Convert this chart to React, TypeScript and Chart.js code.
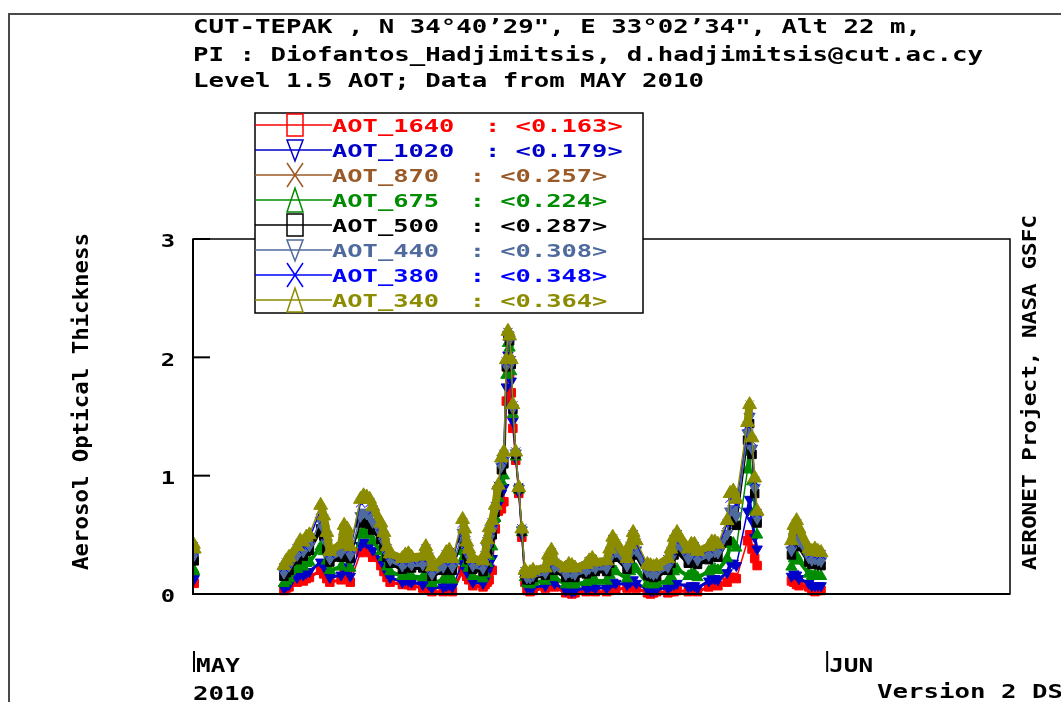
import { useEffect, useRef } from 'react';
import { Chart, registerables } from 'chart.js';

Chart.register(...registerables);

// ---------- DATA ----------
// Observation times, in days of May 2010 (1 = May 1 00:00 UTC). null rows break the line.
const obsDays = [
  1.02, 1.06,
  3.0,
  5.45, 5.57, 5.7,
  6.1, 6.25, 6.4, 6.55, 6.7,
  7.25, 7.4, 7.55, 7.7,
  8.25, 8.4, 8.55, 8.7,
  9.2, 9.35, 9.5, 9.65, 9.8,
  10.2, 10.35, 10.5, 10.65,
  11.25, 11.4, 11.55, 11.7,
  12.25, 12.4, 12.55, 12.7,
  13.25, 13.4, 13.55, 13.7,
  14.2, 14.3, 14.4, 14.5, 14.7,
  15.2, 15.3, 15.4, 15.5, 15.65, 15.8, 15.95,
  16.1, 16.22, 16.34, 16.42, 16.5, 16.58, 16.66, 16.8, 16.95,
  17.1, 17.25, 17.35, 17.5, 17.65,
  18.25, 18.4, 18.55, 18.7,
  19.25, 19.4, 19.55, 19.7,
  20.25, 20.4, 20.55, 20.7,
  21.25, 21.4, 21.55, 21.7,
  22.25, 22.4, 22.55, 22.7,
  23.25, 23.4, 23.55, 23.7,
  24.25, 24.4, 24.55, 24.7,
  25.25, 25.4, 25.55, 25.7,
  26.25, 26.4, 26.55, 26.7,
  27.15, 27.3, 27.45, 27.6,
  28.15, 28.25, 28.37, 28.5, 28.62,
  29.2,
  30.3, 30.42, 30.55, 30.67,
  31.15, 31.3, 31.45, 31.6, 31.75,
];

const aot340 = [
  0.42, 0.38,
  null,
  0.24, 0.28, 0.31,
  0.40, 0.45, 0.44, 0.48, 0.50,
  0.75, 0.66, 0.52, 0.36,
  0.42, 0.58, 0.55, 0.40,
  0.80, 0.83, 0.82, 0.80, 0.74,
  0.60, 0.52, 0.40, 0.34,
  0.30, 0.33, 0.34, 0.31,
  0.32, 0.40, 0.33, 0.23,
  0.30, 0.35, 0.37, 0.30,
  0.63, 0.55, 0.44, 0.38, 0.30,
  0.28, 0.34, 0.46, 0.56, 0.62, 0.75, 0.92,
  1.15, 1.20, 1.98, 2.22, 2.18, 1.98, 1.60, 1.20, 0.90,
  0.55, 0.20, 0.17, 0.18, 0.20,
  0.22, 0.33, 0.37, 0.28,
  0.22, 0.25, 0.24, 0.22,
  0.25, 0.28, 0.30, 0.27,
  0.28, 0.38, 0.48, 0.44,
  0.30, 0.42, 0.52, 0.45,
  0.25, 0.24, 0.23, 0.24,
  0.30, 0.38, 0.48, 0.52,
  0.38, 0.42, 0.42, 0.36,
  0.40, 0.44, 0.44, 0.42,
  0.62, 0.85, 0.87, 0.80,
  1.45, 1.60, 1.32, 0.98, 0.70,
  null,
  0.45, 0.58, 0.62, 0.55,
  0.38, 0.36, 0.38, 0.36, 0.35,
];

const aot380 = [
  0.40, 0.36,
  null,
  0.22, 0.26, 0.29,
  0.38, 0.42, 0.41, 0.45, 0.47,
  0.71, 0.63, 0.49, 0.34,
  0.40, 0.55, 0.52, 0.38,
  0.77, 0.80, 0.79, 0.77, 0.71,
  0.57, 0.49, 0.38, 0.32,
  0.28, 0.31, 0.32, 0.29,
  0.30, 0.38, 0.31, 0.21,
  0.28, 0.33, 0.35, 0.28,
  0.60, 0.52, 0.42, 0.36, 0.28,
  0.26, 0.32, 0.44, 0.54, 0.60, 0.74, 0.91,
  1.13, 1.18, 1.96, 2.21, 2.17, 1.97, 1.59, 1.20, 0.90,
  0.55, 0.19, 0.16, 0.17, 0.19,
  0.21, 0.31, 0.35, 0.26,
  0.21, 0.24, 0.23, 0.21,
  0.24, 0.27, 0.29, 0.26,
  0.27, 0.36, 0.46, 0.42,
  0.29, 0.40, 0.50, 0.43,
  0.24, 0.23, 0.22, 0.23,
  0.29, 0.36, 0.46, 0.50,
  0.36, 0.40, 0.40, 0.34,
  0.38, 0.42, 0.42, 0.40,
  0.59, 0.81, 0.83, 0.76,
  1.42, 1.56, 1.29, 0.95, 0.68,
  null,
  0.43, 0.55, 0.59, 0.52,
  0.36, 0.34, 0.36, 0.34, 0.33,
];

const aot440 = [
  0.35, 0.33,
  null,
  0.18, 0.22, 0.24,
  0.33, 0.37, 0.36, 0.40, 0.41,
  0.62, 0.55, 0.43, 0.30,
  0.35, 0.48, 0.46, 0.33,
  0.66, 0.69, 0.68, 0.66, 0.61,
  0.51, 0.44, 0.34, 0.29,
  0.24, 0.27, 0.28, 0.25,
  0.25, 0.32, 0.26, 0.17,
  0.23, 0.28, 0.29, 0.23,
  0.52, 0.46, 0.37, 0.32, 0.24,
  0.22, 0.28, 0.39, 0.47, 0.54, 0.71, 0.88,
  1.08, 1.13, 1.93, 2.19, 2.15, 1.95, 1.57, 1.19, 0.89,
  0.54, 0.17, 0.14, 0.14, 0.16,
  0.18, 0.27, 0.30, 0.23,
  0.17, 0.19, 0.18, 0.17,
  0.20, 0.22, 0.24, 0.22,
  0.22, 0.30, 0.39, 0.36,
  0.24, 0.34, 0.43, 0.37,
  0.19, 0.18, 0.17, 0.18,
  0.23, 0.30, 0.38, 0.42,
  0.30, 0.34, 0.34, 0.29,
  0.33, 0.36, 0.36, 0.35,
  0.51, 0.70, 0.72, 0.66,
  1.36, 1.50, 1.23, 0.90, 0.64,
  null,
  0.37, 0.48, 0.51, 0.45,
  0.31, 0.29, 0.30, 0.29, 0.28,
];

const aot500 = [
  0.30, 0.28,
  null,
  0.15, 0.18, 0.20,
  0.29, 0.33, 0.32, 0.36, 0.37,
  0.55, 0.49, 0.38, 0.27,
  0.31, 0.43, 0.41, 0.30,
  0.60, 0.62, 0.61, 0.59, 0.54,
  0.46, 0.40, 0.31, 0.26,
  0.21, 0.24, 0.25, 0.22,
  0.22, 0.28, 0.23, 0.15,
  0.20, 0.24, 0.25, 0.20,
  0.47, 0.42, 0.33, 0.29, 0.21,
  0.19, 0.25, 0.35, 0.43, 0.50, 0.69, 0.86,
  1.05, 1.10, 1.92, 2.18, 2.14, 1.94, 1.56, 1.18, 0.89,
  0.53, 0.16, 0.12, 0.12, 0.14,
  0.16, 0.24, 0.27, 0.20,
  0.14, 0.16, 0.15, 0.14,
  0.17, 0.19, 0.21, 0.19,
  0.19, 0.26, 0.34, 0.31,
  0.21, 0.30, 0.38, 0.33,
  0.16, 0.15, 0.14, 0.15,
  0.20, 0.26, 0.33, 0.36,
  0.26, 0.30, 0.30, 0.25,
  0.29, 0.32, 0.32, 0.31,
  0.45, 0.62, 0.64, 0.58,
  1.30, 1.44, 1.18, 0.85, 0.60,
  null,
  0.33, 0.43, 0.46, 0.40,
  0.27, 0.25, 0.26, 0.25, 0.24,
];

const aot675 = [
  0.21, 0.19,
  null,
  0.09, 0.11, 0.13,
  0.21, 0.24, 0.23, 0.26, 0.27,
  0.40, 0.36, 0.28, 0.20,
  0.23, 0.32, 0.30, 0.22,
  0.50, 0.53, 0.52, 0.50, 0.45,
  0.36, 0.31, 0.23, 0.19,
  0.15, 0.17, 0.17, 0.15,
  0.14, 0.18, 0.14, 0.09,
  0.12, 0.15, 0.16, 0.12,
  0.36, 0.32, 0.26, 0.22, 0.15,
  0.13, 0.17, 0.26, 0.32, 0.40, 0.64, 0.81,
  0.95, 1.00, 1.85, 2.12, 2.08, 1.88, 1.52, 1.16, 0.88,
  0.52, 0.14, 0.09, 0.08, 0.10,
  0.11, 0.17, 0.19, 0.14,
  0.08, 0.09, 0.08, 0.08,
  0.10, 0.12, 0.13, 0.11,
  0.11, 0.16, 0.21, 0.19,
  0.13, 0.19, 0.24, 0.21,
  0.09, 0.08, 0.08, 0.09,
  0.11, 0.15, 0.19, 0.21,
  0.15, 0.17, 0.17, 0.14,
  0.19, 0.21, 0.21, 0.20,
  0.30, 0.42, 0.43, 0.39,
  1.05, 1.20, 0.95, 0.70, 0.50,
  null,
  0.23, 0.30, 0.32, 0.28,
  0.17, 0.15, 0.16, 0.15, 0.15,
];

const aot1020 = [
  0.14, 0.13,
  null,
  0.05, 0.07, 0.08,
  0.14, 0.17, 0.16, 0.18, 0.19,
  0.27, 0.24, 0.19, 0.14,
  0.16, 0.23, 0.21, 0.15,
  0.41, 0.44, 0.43, 0.41, 0.37,
  0.29, 0.24, 0.18, 0.14,
  0.10, 0.12, 0.11, 0.10,
  0.08, 0.11, 0.08, 0.05,
  0.06, 0.07, 0.08, 0.06,
  0.26, 0.24, 0.19, 0.16, 0.10,
  0.09, 0.12, 0.18, 0.22, 0.30, 0.60, 0.76,
  0.85, 0.90, 1.75, 2.02, 1.98, 1.80, 1.46, 1.15, 0.86,
  0.50, 0.12, 0.06, 0.05, 0.06,
  0.07, 0.11, 0.12, 0.09,
  0.03, 0.04, 0.02, 0.03,
  0.05, 0.06, 0.07, 0.05,
  0.05, 0.08, 0.10, 0.09,
  0.08, 0.10, 0.12, 0.09,
  0.04, 0.03, 0.03, 0.04,
  0.05, 0.07, 0.08, 0.09,
  0.06, 0.07, 0.07, 0.05,
  0.11, 0.13, 0.13, 0.12,
  0.18, 0.26, 0.26, 0.24,
  0.70, 0.80, 0.62, 0.48, 0.38,
  null,
  0.15, 0.17, 0.16, 0.13,
  0.09, 0.07, 0.07, 0.07, 0.07,
];

const aot1640 = [
  0.10, 0.09,
  null,
  0.03, 0.05, 0.06,
  0.10, 0.12, 0.11, 0.13, 0.14,
  0.20, 0.17, 0.13, 0.10,
  0.12, 0.17, 0.15, 0.10,
  0.35, 0.38, 0.37, 0.35, 0.31,
  0.24, 0.19, 0.14, 0.10,
  0.08, 0.09, 0.08, 0.07,
  0.05, 0.06, 0.04, 0.02,
  0.02, 0.03, 0.03, 0.02,
  0.20, 0.19, 0.15, 0.12, 0.07,
  0.06, 0.08, 0.10, 0.12, 0.20, 0.55, 0.70,
  0.72, 0.78, 1.63, 1.88, 1.86, 1.70, 1.40, 1.13, 0.85,
  0.48, 0.10, 0.03, 0.02, 0.03,
  0.05, 0.08, 0.08, 0.06,
  0.01, 0.02, 0.00, 0.01,
  0.02, 0.03, 0.03, 0.02,
  0.02, 0.03, 0.04, 0.04,
  0.05, 0.06, 0.07, 0.05,
  0.01, 0.00, 0.01, 0.02,
  0.01, 0.02, 0.02, 0.03,
  0.02, 0.03, 0.03, 0.02,
  0.06, 0.08, 0.08, 0.07,
  0.10, 0.14, 0.14, 0.13,
  0.45, 0.50, 0.38, 0.30, 0.24,
  null,
  0.11, 0.10, 0.08, 0.07,
  0.06, 0.03, 0.02, 0.03, 0.03,
];

// AOT_870 has only a few observations
const days870 = [17.35, 17.5, 17.65, 22.0, 28.15, 28.25, 28.37, 28.5, 28.62];
const aot870 = [0.08, 0.12, 0.21, null, 1.30, 1.60, 1.20, 0.85, 0.60];

const legendNames = ['AOT_1640', 'AOT_1020', 'AOT_870', 'AOT_675', 'AOT_500', 'AOT_440', 'AOT_380', 'AOT_340'];
const legendMeans = ['0.163', '0.179', '0.257', '0.224', '0.287', '0.308', '0.348', '0.364'];

const yTickValues = [0, 1, 2, 3];
const monthDays = [1, 32];
const monthNames = ['MAY', 'JUN'];
const yearLabel = '2010';

const titleLines = [
  'CUT-TEPAK , N 34°40’29", E 33°02’34", Alt 22 m,',
  'PI : Diofantos_Hadjimitsis, d.hadjimitsis@cut.ac.cy',
  'Level 1.5 AOT; Data from MAY 2010',
];
const yAxisTitle = 'Aerosol Optical Thickness';
const rightTitle = 'AERONET Project, NASA GSFC';
const versionLabel = 'Version 2 DS';

// ---------- STYLES ----------
const COLORS: Record<string, string> = {
  AOT_1640: '#ff0000',
  AOT_1020: '#0000c8',
  AOT_870: '#9a5a28',
  AOT_675: '#008c00',
  AOT_500: '#000000',
  AOT_440: '#4f6a9c',
  AOT_380: '#0000ff',
  AOT_340: '#8c8c00',
};
const MARKERS: Record<string, { style: string; rot: number; r: number; lw: number }> = {
  AOT_1640: { style: 'rect', rot: 0, r: 6, lw: 3 },
  AOT_1020: { style: 'triangle', rot: 180, r: 6, lw: 3 },
  AOT_870: { style: 'crossRot', rot: 0, r: 6, lw: 2 },
  AOT_675: { style: 'triangle', rot: 0, r: 6.5, lw: 4 },
  AOT_500: { style: 'rect', rot: 0, r: 6, lw: 4 },
  AOT_440: { style: 'triangle', rot: 180, r: 6.5, lw: 5 },
  AOT_380: { style: 'crossRot', rot: 0, r: 6.5, lw: 4 },
  AOT_340: { style: 'triangle', rot: 0, r: 8, lw: 8 },
};

const FONT = '"DejaVu Sans Mono", monospace';

function drawText(
  ctx: CanvasRenderingContext2D,
  text: string,
  x: number,
  yc: number,
  size: number,
  color: string,
  opts: { width?: number; sx?: number; align?: CanvasTextAlign; rotate?: boolean } = {}
) {
  ctx.save();
  ctx.font = `bold ${size}px ${FONT}`;
  ctx.fillStyle = color;
  ctx.textBaseline = 'alphabetic';
  ctx.textAlign = opts.align ?? 'left';
  const w = ctx.measureText(text).width;
  const sx = opts.width ? opts.width / w : opts.sx ?? 1;
  const off = 0.3645 * size;
  if (opts.rotate) {
    ctx.translate(x + off, yc);
    ctx.rotate(-Math.PI / 2);
  } else {
    ctx.translate(x, yc + off);
  }
  ctx.scale(sx, 1);
  ctx.fillText(text, 0, 0);
  ctx.restore();
}

function drawLegendMarker(ctx: CanvasRenderingContext2D, name: string, x: number, y: number) {
  const m = MARKERS[name];
  ctx.save();
  ctx.strokeStyle = COLORS[name];
  ctx.lineWidth = 1.5;
  ctx.beginPath();
  if (m.style === 'rect') {
    ctx.rect(x - 8, y - 11, 16, 22);
  } else if (m.style === 'crossRot') {
    ctx.moveTo(x - 8, y - 12);
    ctx.lineTo(x + 8, y + 12);
    ctx.moveTo(x + 8, y - 12);
    ctx.lineTo(x - 8, y + 12);
  } else if (m.rot === 180) {
    ctx.moveTo(x - 8, y - 10);
    ctx.lineTo(x + 8, y - 10);
    ctx.lineTo(x, y + 11);
    ctx.closePath();
  } else {
    ctx.moveTo(x - 8, y + 12);
    ctx.lineTo(x + 8, y + 12);
    ctx.lineTo(x, y - 12);
    ctx.closePath();
  }
  ctx.stroke();
  ctx.restore();
}

const decorPlugin = {
  id: 'aeronetDecor',
  afterDraw(chart: any) {
    const ctx: CanvasRenderingContext2D = chart.ctx;
    const xs = chart.scales.x;
    const ys = chart.scales.y;
    const { left, top, right, bottom } = chart.chartArea;

    // outer frame lines
    ctx.save();
    ctx.strokeStyle = '#4a4a4a';
    ctx.lineWidth = 2;
    ctx.beginPath();
    ctx.moveTo(9, 702);
    ctx.lineTo(9, 14);
    ctx.lineTo(1061, 14);
    ctx.stroke();

    // plot box
    ctx.strokeStyle = '#000';
    ctx.lineWidth = 1.5;
    ctx.strokeRect(left, top, right - left, bottom - top);
    ctx.lineWidth = 2;
    ctx.beginPath();
    ctx.moveTo(left, top);
    ctx.lineTo(left, bottom);
    ctx.lineTo(right, bottom);
    ctx.stroke();

    // y ticks (inward)
    ctx.lineWidth = 2;
    for (const v of yTickValues) {
      const py = ys.getPixelForValue(v);
      ctx.beginPath();
      ctx.moveTo(left, py);
      ctx.lineTo(left + 17, py);
      ctx.stroke();
      drawText(ctx, String(v), left - 18, py + 2, 17, '#000', { sx: 1.4, align: 'right' });
    }

    // month ticks + labels
    monthDays.forEach((d, i) => {
      const px = xs.getPixelForValue(d);
      ctx.strokeStyle = '#000';
      ctx.lineWidth = 2;
      ctx.beginPath();
      ctx.moveTo(px + 1, 651);
      ctx.lineTo(px + 1, 672);
      ctx.stroke();
      drawText(ctx, monthNames[i], px + 3, 664.5, 20, '#000', { width: 44 });
      if (i === 0) drawText(ctx, yearLabel, px, 692.5, 20, '#000', { width: 62 });
    });
    drawText(ctx, versionLabel, 877, 690.5, 20, '#000', { width: 186 });

    // axis titles
    drawText(ctx, yAxisTitle, 80, 570, 21, '#000', { width: 337, rotate: true });
    drawText(ctx, rightTitle, 1029, 570, 20, '#000', { width: 355, rotate: true });

    // header
    const titleWidths = [728, 790, 511];
    const titleY = [26, 54, 80];
    titleLines.forEach((t, i) => drawText(ctx, t, 193, titleY[i], 20, '#000', { width: titleWidths[i] }));

    // legend box
    const lx0 = 255, ly0 = 113, lx1 = 643, ly1 = 313;
    ctx.fillStyle = '#fff';
    ctx.fillRect(lx0, ly0, lx1 - lx0, ly1 - ly0);
    ctx.strokeStyle = '#000';
    ctx.lineWidth = 1.5;
    ctx.strokeRect(lx0, ly0, lx1 - lx0, ly1 - ly0);
    legendNames.forEach((name, i) => {
      const y = 125 + 25 * i;
      ctx.strokeStyle = COLORS[name];
      ctx.lineWidth = 1.5;
      ctx.beginPath();
      ctx.moveTo(lx0, y);
      ctx.lineTo(332, y);
      ctx.stroke();
      drawLegendMarker(ctx, name, 295, y);
      const text = `${name}  : <${legendMeans[i]}>`;
      drawText(ctx, text, 332, y, 18, COLORS[name], { width: 15.3 * text.length });
    });
    ctx.restore();
  },
};

function series(name: string, days: number[], vals: (number | null)[]) {
  const m = MARKERS[name];
  return {
    label: name,
    data: days.map((d, i) => ({ x: d, y: vals[i] })),
    borderColor: COLORS[name],
    backgroundColor: COLORS[name],
    pointBorderColor: COLORS[name],
    pointBackgroundColor: COLORS[name],
    pointStyle: m.style,
    pointRotation: m.rot,
    pointRadius: m.r,
    pointBorderWidth: 1,
    borderWidth: m.lw,
    borderJoinStyle: 'round',
    borderCapStyle: 'round',
    // steep segments (the dust spikes) stay thin, as in the original plot
    segment: {
      borderWidth: (c: any) => (Math.abs(c.p1.y - c.p0.y) > 22 ? 1.5 : m.lw),
    },
    spanGaps: false,
    tension: 0,
    clip: { left: 0, top: 0, right: 0, bottom: 5 },
  };
}

export default function App() {
  const ref = useRef<HTMLCanvasElement>(null);
  useEffect(() => {
    const canvas = ref.current;
    if (!canvas) return;
    const datasets = [
      series('AOT_340', obsDays, aot340),
      series('AOT_380', obsDays, aot380),
      series('AOT_440', obsDays, aot440),
      series('AOT_500', obsDays, aot500),
      series('AOT_675', obsDays, aot675),
      series('AOT_870', days870, aot870),
      series('AOT_1020', obsDays, aot1020),
      series('AOT_1640', obsDays, aot1640),
    ];
    const chart = new Chart(canvas, {
      type: 'line',
      data: { datasets } as any,
      options: {
        responsive: false,
        animation: false,
        devicePixelRatio: 1,
        layout: { padding: { left: 0, top: 239, right: 51, bottom: 108 } },
        plugins: {
          legend: { display: false },
          tooltip: { enabled: false },
          title: { display: false },
        },
        scales: {
          x: { type: 'linear', min: 1, max: 41, display: false },
          y: {
            type: 'linear',
            min: 0,
            max: 3,
            afterFit: (s: any) => {
              s.width = 193;
            },
            grid: { display: false, drawTicks: false },
            border: { display: false },
            ticks: { display: false, stepSize: 1 },
          },
        },
      } as any,
      plugins: [decorPlugin],
    });
    return () => chart.destroy();
  }, []);
  return (
    <div style={{ position: 'fixed', left: 0, top: 0, width: 1061, height: 702, background: '#fff' }}>
      <canvas ref={ref} width={1061} height={702} style={{ display: 'block', width: 1061, height: 702 }} />
    </div>
  );
}
